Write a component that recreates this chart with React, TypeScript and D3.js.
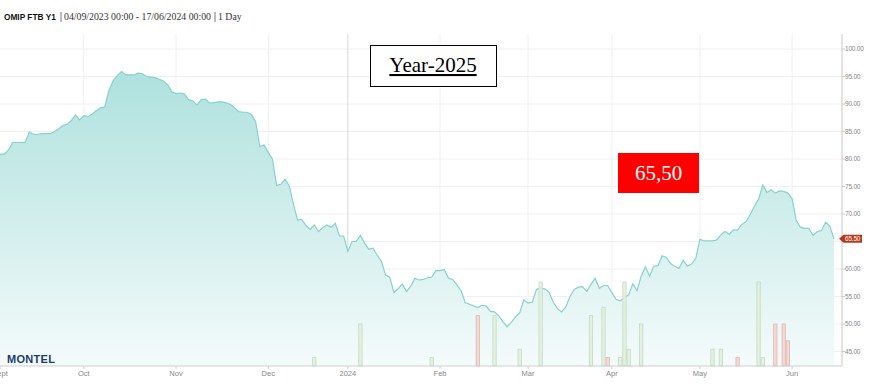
import React from 'react';
import * as d3 from 'd3';

const START_DATE = '2023-09-04';
const END_DATE = '2024-06-17';
const HOLIDAYS = ['2023-12-25', '2023-12-26', '2024-01-01', '2024-03-29', '2024-04-01', '2024-05-01'];

// Daily settlement prices (EUR/MWh), one per trading day
const PRICES = [
  80.9, 80.9, 81.6, 83.0, 83.0, 83.0, 83.0, 84.9, 84.5, 84.5,
  84.6, 84.6, 84.6, 85.0, 85.5, 86.1, 86.3, 87.0, 88.0, 87.1,
  87.9, 87.7, 88.2, 88.8, 89.3, 89.5, 92.5, 94.2, 95.2, 95.9,
  95.3, 95.3, 95.3, 95.6, 95.5, 95.0, 94.9, 94.8, 94.5, 94.2,
  93.5, 92.2, 91.9, 92.0, 91.8, 90.8, 90.6, 89.8, 90.8, 90.9,
  90.2, 90.2, 90.4, 90.4, 90.2, 89.9, 89.3, 88.6, 88.5, 88.5,
  88.1, 86.8, 82.2, 82.6, 81.2, 80.0, 75.2, 75.4, 76.3, 75.2,
  71.9, 68.9, 69.0, 67.9, 67.2, 68.0, 66.8, 67.5, 68.0, 67.6,
  68.3, 66.0, 66.0, 63.2, 65.0, 65.0, 66.1, 64.7, 63.6, 63.8,
  62.5, 61.4, 58.9, 58.5, 55.7, 56.4, 57.3, 55.9, 56.9, 58.3,
  58.0, 58.1, 58.4, 58.5, 59.7, 59.7, 59.9, 58.3, 58.1, 57.1,
  56.1, 53.9, 53.6, 53.3, 53.0, 53.4, 53.3, 52.3, 52.2, 51.5,
  50.4, 49.5, 50.3, 51.3, 52.0, 54.4, 53.8, 54.0, 56.3, 56.5,
  56.4, 55.8, 54.0, 52.8, 52.2, 53.1, 55.0, 56.3, 56.7, 56.8,
  55.9, 57.2, 58.3, 56.5, 57.0, 57.0, 55.7, 54.5, 54.2, 54.8,
  55.3, 57.3, 56.1, 58.7, 60.4, 58.7, 60.5, 60.6, 62.4, 62.1,
  61.0, 60.5, 60.1, 61.6, 60.5, 60.9, 61.9, 65.4, 65.1, 65.1,
  65.1, 65.3, 66.2, 66.8, 66.3, 67.1, 67.1, 68.1, 68.6, 69.9,
  71.4, 72.7, 75.3, 73.9, 74.4, 73.8, 74.2, 74.1, 73.8, 72.8,
  68.8, 67.6, 67.4, 67.4, 66.1, 66.8, 67.0, 68.5, 67.8, 65.5,
];

// Traded volume bars
const VOLUME_DATES = [
  '2023-12-18', '2024-01-05', '2024-01-30', '2024-02-14', '2024-02-20', '2024-02-28',
  '2024-03-06', '2024-03-22', '2024-03-27', '2024-03-28', '2024-04-04', '2024-04-05',
  '2024-04-08', '2024-04-11', '2024-05-07', '2024-05-09', '2024-05-15', '2024-05-22',
  '2024-05-23', '2024-05-28', '2024-05-30', '2024-05-31',
];
const VOLUME_VALUES = [1, 5, 1, 6, 6, 2, 10, 6, 7, 1, 1, 10, 2, 5, 2, 2, 1, 10, 1, 5, 5, 3];
const VOLUME_SIDE = [
  'up', 'up', 'up', 'down', 'up', 'up', 'up', 'up', 'up', 'down', 'up', 'up',
  'up', 'up', 'up', 'up', 'down', 'up', 'up', 'down', 'down', 'down',
];

const Y_TICKS = [45, 50, 55, 60, 65, 70, 75, 80, 85, 90, 95, 100];
const MONTH_LABELS = ['Sept', 'Oct', 'Nov', 'Dec', '2024', 'Feb', 'Mar', 'Apr', 'May', 'Jun'];
const LAST_PRICE = 65.5;
const TITLE = 'OMIP FTB Y1';
const PERIOD = '04/09/2023 00:00 - 17/06/2024 00:00';
const INTERVAL = '1 Day';
const NOTE_YEAR = 'Year-2025';
const NOTE_PRICE = '65,50';

function tradingDays(): Date[] {
  const parse = d3.timeParse('%Y-%m-%d');
  const fmt = d3.timeFormat('%Y-%m-%d');
  const hol = new Set(HOLIDAYS);
  const days = d3.timeDay.range(parse(START_DATE)!, d3.timeDay.offset(parse(END_DATE)!, 1));
  return days.filter((d) => d.getDay() !== 0 && d.getDay() !== 6 && !hol.has(fmt(d)));
}

export default function App() {
  const W = 872;
  const H = 384;
  const plotTop = 34;
  const plotBottom = 366;
  const axisX = 842;

  const days = tradingDays();
  const fmt = d3.timeFormat('%Y-%m-%d');
  const idxOf = new Map(days.map((d, i) => [fmt(d), i]));

  const x = d3.scaleLinear().domain([0, PRICES.length - 1]).range([0, 834]);
  const y = d3.scaleLinear().domain([45, 100]).range([351.5, 49]);
  const vy = d3.scaleLinear().domain([0, 10]).range([plotBottom, plotBottom - 84]);

  const area = d3
    .area<number>()
    .x((_, i) => x(i))
    .y0(plotBottom)
    .y1((d) => y(d));
  const line = d3
    .line<number>()
    .x((_, i) => x(i))
    .y((d) => y(d));

  // first trading day of each month
  const monthIdx: number[] = [];
  days.forEach((d, i) => {
    if (i === 0 || d.getMonth() !== days[i - 1].getMonth()) monthIdx.push(i);
  });

  const slot = x(1) - x(0);
  const sans = '"Liberation Sans", Arial, sans-serif';
  const serif = '"Liberation Serif", "Times New Roman", serif';

  const ly = y(LAST_PRICE);

  return (
    <svg
      width={W}
      height={H}
      style={{ position: 'absolute', left: 0, top: 0, background: '#fff' }}
      xmlns="http://www.w3.org/2000/svg"
    >
      <defs>
        <linearGradient id="areaGrad" gradientUnits="userSpaceOnUse" x1="0" y1={49} x2="0" y2={plotBottom}>
          <stop offset="0%" stopColor="#a9dfdb" />
          <stop offset="100%" stopColor="#f4fbfb" />
        </linearGradient>
        <clipPath id="plotClip">
          <rect x={0} y={plotTop} width={axisX} height={plotBottom - plotTop} />
        </clipPath>
      </defs>

      {/* header */}
      <text x={4} y={20} fontFamily={sans} fontWeight="bold" fontSize={8.3} fill="#111">
        {TITLE}
      </text>
      <line x1={61} x2={61} y1={12} y2={22} stroke="#555" strokeWidth={0.8} />
      <text x={64} y={20} fontFamily={serif} fontSize={9.8} fill="#333">
        {PERIOD}
      </text>
      <line x1={215} x2={215} y1={12} y2={22} stroke="#555" strokeWidth={0.8} />
      <text x={218} y={20} fontFamily={serif} fontSize={9.8} fill="#333">
        {INTERVAL}
      </text>

      {/* grid */}
      {Y_TICKS.map((t) => (
        <line key={'h' + t} x1={0} x2={axisX} y1={y(t)} y2={y(t)} stroke="#f0f0f0" strokeWidth={1} />
      ))}
      {monthIdx.slice(1).map((i) => (
        <line
          key={'v' + i}
          x1={x(i)}
          x2={x(i)}
          y1={plotTop}
          y2={plotBottom}
          stroke={days[i].getMonth() === 0 ? '#d8d8d8' : '#f0f0f0'}
          strokeWidth={1}
        />
      ))}

      {/* price area */}
      <g clipPath="url(#plotClip)">
        <path d={area(PRICES) || ''} fill="url(#areaGrad)" />
        <path d={line(PRICES) || ''} fill="none" stroke="#86d3ce" strokeWidth={1.2} />
      </g>

      {/* volume bars */}
      {VOLUME_DATES.map((ds, k) => {
        const i = idxOf.get(ds) ?? 0;
        const up = VOLUME_SIDE[k] === 'up';
        const bw = slot - 0.9;
        return (
          <rect
            key={'b' + k}
            x={x(i) - bw / 2}
            y={vy(VOLUME_VALUES[k])}
            width={bw}
            height={plotBottom - vy(VOLUME_VALUES[k])}
            fill={up ? '#e2efdf' : '#f3d5d0'}
            fillOpacity={0.9}
            stroke={up ? '#c4dbc0' : '#e3b7b0'}
            strokeWidth={0.8}
          />
        );
      })}

      {/* x axis */}
      <line x1={0} x2={axisX} y1={plotBottom} y2={plotBottom} stroke="#cfcfcf" strokeWidth={1} />
      {monthIdx.map((i, k) => (
        <g key={'xt' + i}>
          <line x1={x(i)} x2={x(i)} y1={plotBottom} y2={plotBottom + 3} stroke="#cfcfcf" />
          <text x={x(i)} y={376} textAnchor="middle" fontFamily={sans} fontSize={7.5} fill="#888">
            {MONTH_LABELS[k]}
          </text>
        </g>
      ))}

      {/* y axis */}
      <line x1={axisX} x2={axisX} y1={plotTop} y2={plotBottom} stroke="#c8c8c8" strokeWidth={1} />
      {Y_TICKS.map((t) => (
        <g key={'yt' + t}>
          <line x1={axisX} x2={axisX + 3} y1={y(t)} y2={y(t)} stroke="#c8c8c8" />
          {Math.abs(y(t) - ly) > 7 && (
            <text x={845} y={y(t) + 2.3} fontFamily={sans} fontSize={6.5} letterSpacing={-0.2} fill="#888">
              {t.toFixed(2)}
            </text>
          )}
        </g>
      ))}

      {/* last price marker */}
      <path
        d={`M${axisX - 3},${ly} L${axisX + 1.5},${ly - 4} L862,${ly - 4} L862,${ly + 4} L${axisX + 1.5},${ly + 4} Z`}
        fill="#b8371b"
      />
      <text x={845} y={ly + 2.3} fontFamily={sans} fontSize={6.5} letterSpacing={-0.2} fill="#fff">
        {LAST_PRICE.toFixed(2)}
      </text>

      {/* logo */}
      <text x={7} y={363} fontFamily={sans} fontWeight={900} fontSize={11} letterSpacing={0.3} fill="#1d3b6e">
        MONTEL
      </text>

      {/* annotations */}
      <rect x={370.5} y={45.5} width={126} height={41} fill="#fff" stroke="#000" strokeWidth={1} />
      <text x={433} y={72} textAnchor="middle" fontFamily={serif} fontSize={21} fill="#000" textDecoration="underline">
        {NOTE_YEAR}
      </text>

      <rect x={618} y={153} width={81} height={40} fill="#ff0000" />
      <text x={658.5} y={180} textAnchor="middle" fontFamily={serif} fontSize={21} fill="#fff">
        {NOTE_PRICE}
      </text>
    </svg>
  );
}
